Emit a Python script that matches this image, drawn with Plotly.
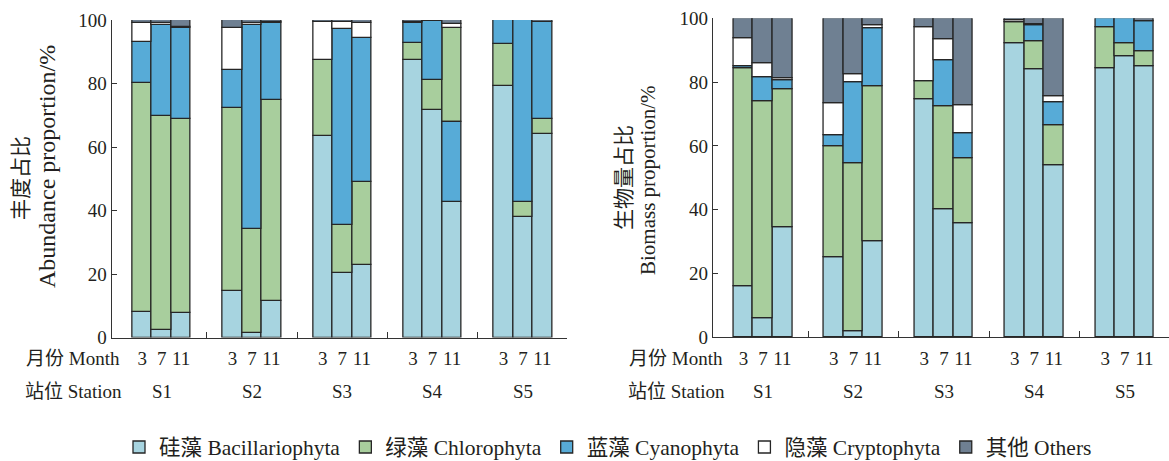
import numpy as np
import plotly.graph_objects as go

# ---- data -------------------------------------------------------------
stations = ["S1", "S2", "S3", "S4", "S5"]
months = ["3", "7", "11"]
groups = ["硅藻 Bacillariophyta", "绿藻 Chlorophyta", "蓝藻 Cyanophyta",
          "隐藻 Cryptophyta", "其他 Others"]

# Abundance proportion (%), bars ordered S1(3,7,11), S2(3,7,11), ...
abund_bac = [8.0, 2.4, 7.8, 14.8, 1.3, 11.4, 63.6, 20.4, 22.8, 87.5, 71.8, 42.6, 79.3, 37.9, 64.2]
abund_chl = [72.2, 67.5, 61.1, 57.4, 32.8, 63.5, 23.9, 15.1, 26.3, 5.4, 9.4, 29.6, 13.2, 4.8, 4.7]
abund_cya = [12.8, 28.4, 28.5, 11.9, 64.4, 24.2, 0.0, 61.7, 45.3, 6.2, 18.5, 25.3, 7.5, 57.3, 30.6]
abund_cry = [5.9, 0.6, 0.4, 13.4, 0.7, 0.3, 11.8, 2.3, 4.5, 0.3, 0.0, 1.3, 0.0, 0.0, 0.0]
abund_oth = [1.1, 1.1, 2.2, 2.5, 0.8, 0.6, 0.7, 0.5, 1.1, 0.6, 0.3, 1.2, 0.0, 0.0, 0.5]

# Biomass proportion (%)
biom_bac = [16.1, 6.0, 34.5, 25.0, 1.8, 30.1, 74.7, 40.1, 35.7, 92.2, 84.1, 53.9, 84.3, 88.0, 85.1]
biom_chl = [68.2, 68.1, 43.2, 34.9, 52.6, 48.5, 5.7, 32.2, 20.4, 6.6, 8.6, 12.6, 12.8, 4.2, 4.6]
biom_cya = [0.8, 7.4, 2.9, 3.4, 25.4, 18.3, 0.0, 14.6, 7.8, 0.0, 5.1, 7.3, 2.9, 7.8, 9.5]
biom_cry = [8.5, 4.5, 0.7, 9.9, 2.8, 1.0, 16.8, 6.5, 8.8, 0.5, 0.2, 1.9, 0.0, 0.0, 0.0]
biom_oth = [6.4, 14.0, 18.7, 26.8, 17.4, 2.1, 2.8, 6.6, 27.3, 0.7, 2.0, 24.3, 0.0, 0.0, 0.8]

# bars where Cyanophyta is stacked beneath Chlorophyta
abund_cyano_first = [("S4", "11")]
biom_cyano_first = []

# ---- styling ----------------------------------------------------------
colors = ["#A7D4E0", "#A8CE9D", "#57ABD7", "#FFFFFF", "#6F8092"]
edge = "#262626"
W, H = 1169, 461
FONT = "Liberation Serif, Noto Sans CJK SC, serif"
TXT = "#231F20"

P = 4.63  # spacing between station groups, in bar widths
xpos = [g * P + (m - 1) for g in range(len(stations)) for m in range(len(months))]
bar_keys = [(s, m) for s in stations for m in months]
sep_ticks = [(g + 0.5) * P for g in range(len(stations) - 1)]
xrange_ = [-2.57, 20.78]


def stack_bases(series, swaps):
    vals = np.array(series, dtype=float)  # (5, n)
    bases = np.zeros_like(vals)
    for j, key in enumerate(bar_keys):
        order = [0, 2, 1, 3, 4] if key in swaps else [0, 1, 2, 3, 4]
        acc = 0.0
        for k in order:
            bases[k, j] = acc
            acc += vals[k, j]
    return vals, bases


panels = [
    dict(series=[abund_bac, abund_chl, abund_cya, abund_cry, abund_oth],
         swaps=abund_cyano_first, xa="x", ya="y"),
    dict(series=[biom_bac, biom_chl, biom_cya, biom_cry, biom_oth],
         swaps=biom_cyano_first, xa="x2", ya="y2"),
]

fig = go.Figure()
for pi, p in enumerate(panels):
    vals, bases = stack_bases(p["series"], p["swaps"])
    for k, name in enumerate(groups):
        yv = [v if v > 0 else None for v in vals[k]]
        fig.add_trace(go.Bar(
            x=xpos, y=yv, base=bases[k], width=1.0,
            name=name, legendgroup=name, showlegend=(pi == 0),
            marker=dict(color=colors[k], line=dict(color=edge, width=1.3)),
            xaxis=p["xa"], yaxis=p["ya"],
        ))

px2x = lambda v: v / W
px2y = lambda v: (H - v) / H

common_x = dict(
    range=xrange_, showline=True, linecolor="#333333", linewidth=1,
    showgrid=False, zeroline=False, tickmode="array", tickvals=xpos,
    ticktext=months * len(stations), ticks="", ticklabelstandoff=4,
    tickfont=dict(size=19, color=TXT, family=FONT),
    minor=dict(tickmode="array", tickvals=sep_ticks, ticks="inside",
               ticklen=6, tickcolor="#333333", showgrid=False),
)
common_y = dict(
    range=[0, 100], tickvals=[0, 20, 40, 60, 80, 100], ticks="inside",
    ticklen=5, tickcolor="#333333", showline=True, linecolor="#333333",
    linewidth=1, showgrid=False, zeroline=False,
    tickfont=dict(size=19, color=TXT, family=FONT),
)

fig.update_layout(
    width=W, height=H, autosize=False,
    margin=dict(l=0, r=0, t=0, b=0, autoexpand=False),
    paper_bgcolor="white", plot_bgcolor="white",
    barmode="overlay", bargap=0,
    font=dict(family=FONT, color=TXT, size=19),
    xaxis=dict(domain=[px2x(111.5), px2x(567)], anchor="y", **common_x),
    yaxis=dict(domain=[px2y(337.5), px2y(20)], anchor="x", **common_y),
    xaxis2=dict(domain=[px2x(712.7), px2x(1169)], anchor="y2", **common_x),
    yaxis2=dict(domain=[px2y(337.3), px2y(18.3)], anchor="x2", **common_y),
    legend=dict(orientation="h", x=px2x(608), xanchor="center",
                y=px2y(447), yanchor="middle",
                font=dict(size=21.5, color=TXT, family=FONT),
                traceorder="normal", bgcolor="rgba(0,0,0,0)"),
)

ann = []
# y-axis titles
for xc, yc, txt, fs in [(21, 178, "丰度占比", 21), (47, 167, "Abundance proportion/%", 24),
                        (624, 178, "生物量占比", 21), (648, 180, "Biomass proportion/%", 21)]:
    ann.append(dict(x=px2x(xc), y=px2y(yc), xref="paper", yref="paper",
                    text=txt, textangle=-90, showarrow=False,
                    xanchor="center", yanchor="middle",
                    font=dict(size=fs, color=TXT, family=FONT)))
# row headers under the axes
for xr in (122, 725):
    ann.append(dict(x=px2x(xr), y=px2y(358), xref="paper", yref="paper",
                    text="月份 Month", showarrow=False, xanchor="right",
                    yanchor="middle", font=dict(size=19, color=TXT, family=FONT)))
    ann.append(dict(x=px2x(xr + 2), y=px2y(391), xref="paper", yref="paper",
                    text="站位 Station", showarrow=False, xanchor="right",
                    yanchor="middle", font=dict(size=19, color=TXT, family=FONT)))
# station names centred under each group
for xa in ("x", "x2"):
    for g, s in enumerate(stations):
        ann.append(dict(x=g * P, y=px2y(391), xref=xa, yref="paper",
                        text=s, showarrow=False, xanchor="center",
                        yanchor="middle", font=dict(size=19, color=TXT, family=FONT)))
fig.update_layout(annotations=ann)

fig.write_html("out.html")
